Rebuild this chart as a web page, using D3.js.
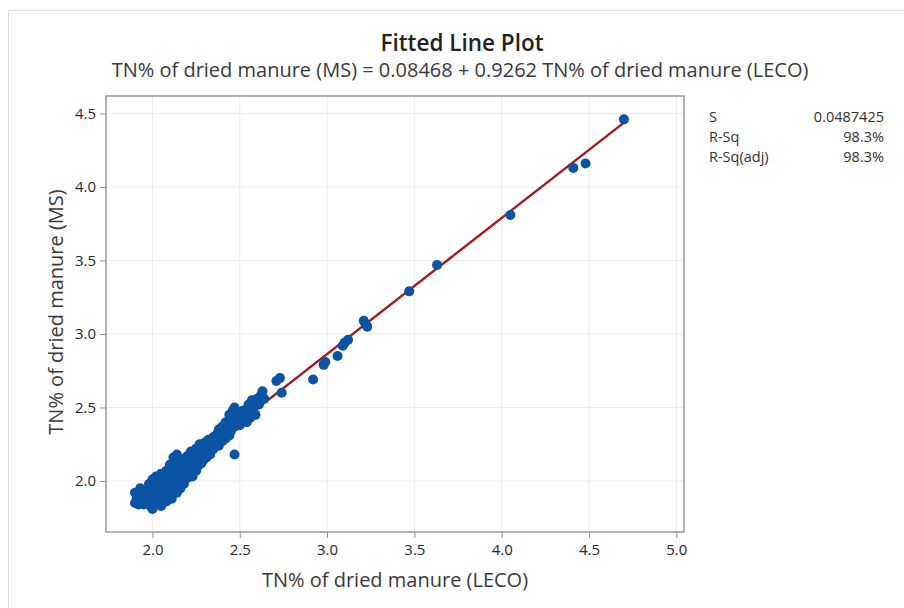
<!DOCTYPE html>
<html>
<head>
<meta charset="utf-8">
<script src="https://cdn.jsdelivr.net/npm/d3@7"></script>
<style>
body { margin: 0; background: #fff; }
svg { display: block; font-family: "Open Sans", "Noto Sans", sans-serif; }
</style>
</head>
<body>
<svg width="904" height="608"></svg>
<script>
// LECO (x) vs MS (y) readings
const clusterPoints = [
    [1.90,1.85],[1.90,1.92],[1.91,1.88],[1.92,1.84],[1.93,1.90],[1.93,1.95],[1.94,1.87],[1.95,1.92],[1.95,1.84],
    [1.96,1.89],[1.97,1.94],[1.97,1.86],[1.98,1.98],[1.98,1.91],[1.99,1.83],[1.99,1.95],[2.00,1.88],[2.00,2.01],
    [2.00,1.81],[2.01,1.93],[2.01,1.97],[2.02,1.85],[2.02,1.90],[2.02,2.03],[2.03,1.96],[2.03,1.87],[2.04,1.99],
    [2.04,1.92],[2.05,1.83],[2.05,2.05],[2.05,1.95],
    [2.06,1.89],[2.06,2.01],[2.07,1.97],[2.07,1.93],[2.08,2.07],[2.08,1.86],[2.08,2.02],[2.09,1.99],[2.09,1.91],
    [2.10,2.05],[2.10,1.95],[2.10,2.11],[2.11,1.88],[2.11,2.00],[2.12,2.08],[2.12,1.93],[2.12,2.16],[2.13,2.03],
    [2.13,1.97],[2.14,2.10],[2.14,2.18],[2.14,1.92],[2.15,2.05],[2.15,2.00],
    [2.16,2.12],[2.16,1.95],[2.17,2.08],[2.17,2.02],[2.18,2.15],[2.18,1.98],[2.19,2.06],[2.19,2.11],[2.20,2.02],
    [2.20,2.17],[2.21,2.09],[2.21,2.05],[2.22,2.13],[2.22,2.20],[2.23,2.08],[2.23,2.03],[2.24,2.16],[2.24,2.11],
    [2.25,2.22],[2.25,2.07],
    [2.26,2.14],[2.26,2.10],[2.27,2.19],[2.27,2.25],[2.28,2.12],[2.28,2.17],[2.29,2.21],[2.29,2.14],[2.30,2.19],
    [2.30,2.26],[2.31,2.16],[2.31,2.23],[2.32,2.20],[2.32,2.28],[2.33,2.18],[2.33,2.24],[2.34,2.21],[2.35,2.27],
    [2.35,2.30],[2.35,2.22],
    [2.36,2.25],[2.37,2.32],[2.37,2.28],[2.38,2.24],[2.38,2.35],[2.39,2.30],[2.40,2.27],[2.40,2.37],[2.41,2.33],
    [2.42,2.29],[2.42,2.40],[2.43,2.35],[2.44,2.31],[2.44,2.45],[2.45,2.38],[2.45,2.34],
    [2.46,2.48],[2.46,2.42],[2.47,2.37],[2.47,2.50],[2.48,2.44],[2.49,2.40],[2.49,2.47],[2.50,2.43],[2.50,2.38],
    [2.51,2.46],[2.52,2.41],[2.52,2.48],[2.53,2.44],[2.54,2.40],[2.55,2.47],[2.55,2.52],
    [2.56,2.43],[2.57,2.55],[2.58,2.50],[2.59,2.45],[2.60,2.56],[2.61,2.52],[2.62,2.58],[2.63,2.61],[2.64,2.56]
]
const outlierPoints = [
    [2.47,2.18],[2.71,2.68],[2.73,2.70],[2.74,2.60],[2.92,2.69],[2.98,2.79],[2.99,2.81],[3.06,2.85],
    [3.09,2.92],[3.10,2.94],[3.12,2.96],[3.21,3.09],[3.22,3.07],[3.23,3.05],[3.47,3.29],[3.63,3.47],
    [4.05,3.81],[4.41,4.13],[4.48,4.16],[4.70,4.46]
]
const xTicks = [2.0, 2.5, 3.0, 3.5, 4.0, 4.5, 5.0]
const yTicks = [2.0, 2.5, 3.0, 3.5, 4.0, 4.5]
const fitIntercept = 0.08468
const fitSlope = 0.9262
const fitRange = [1.90, 4.70]
const statLabels = ['S', 'R-Sq', 'R-Sq(adj)']
const statValues = ['0.0487425', '98.3%', '98.3%']

const svg = d3.select('svg')
const frame = {left: 106, right: 684, top: 96, bottom: 532}

const x = d3.scaleLinear().domain([1.734, 5.044]).range([frame.left, frame.right])
const y = d3.scaleLinear().domain([1.653, 4.619]).range([frame.bottom, frame.top])

// window border
svg.append('path')
    .attr('d', 'M8.5,608 V10.5 H904')
    .attr('fill', 'none')
    .attr('stroke', '#dcdcdc')

// gridlines
svg.append('g').selectAll('line').data(xTicks).enter().append('line')
    .attr('x1', d => x(d)).attr('x2', d => x(d))
    .attr('y1', frame.top).attr('y2', frame.bottom)
    .attr('stroke', '#ececec')
svg.append('g').selectAll('line').data(yTicks).enter().append('line')
    .attr('x1', frame.left).attr('x2', frame.right)
    .attr('y1', d => y(d)).attr('y2', d => y(d))
    .attr('stroke', '#ececec')

// axes
const xAxis = svg.append('g')
    .attr('transform', `translate(0,${frame.bottom})`)
    .call(d3.axisBottom(x).tickValues(xTicks).tickFormat(d3.format('.1f')).tickSize(6).tickPadding(6))
const yAxis = svg.append('g')
    .attr('transform', `translate(${frame.left},0)`)
    .call(d3.axisLeft(y).tickValues(yTicks).tickFormat(d3.format('.1f')).tickSize(6).tickPadding(4))
;[xAxis, yAxis].forEach(g => {
    g.select('.domain').remove()
    g.selectAll('.tick line').attr('stroke', '#8c8c8c')
    g.selectAll('.tick text').attr('fill', '#2a2a2a').style('font-size', '15px')
        .style('font-family', '"Open Sans", sans-serif')
})

// frame
svg.append('rect')
    .attr('x', frame.left).attr('y', frame.top)
    .attr('width', frame.right - frame.left).attr('height', frame.bottom - frame.top)
    .attr('fill', 'none').attr('stroke', '#9a9a9a').attr('stroke-width', 1.5)

// fitted line
svg.append('line')
    .attr('x1', x(fitRange[0])).attr('y1', y(fitIntercept + fitSlope * fitRange[0]))
    .attr('x2', x(fitRange[1])).attr('y2', y(fitIntercept + fitSlope * fitRange[1]))
    .attr('stroke', '#a31b1f').attr('stroke-width', 2.4)

// points
svg.append('g').selectAll('circle')
    .data(clusterPoints.concat(outlierPoints))
    .enter()
    .append('circle')
    .attr('cx', d => x(d[0]))
    .attr('cy', d => y(d[1]))
    .attr('r', 5)
    .style('fill', '#0a53a5')

// titles
svg.append('text').attr('x', 462).attr('y', 51)
    .attr('text-anchor', 'middle').attr('fill', '#222')
    .style('font-size', '22.5px').style('font-weight', '600')
    .text('Fitted Line Plot')
svg.append('text').attr('x', 460).attr('y', 77)
    .attr('text-anchor', 'middle').attr('fill', '#3a3a3a')
    .style('font-size', '20px')
    .text('TN% of dried manure (MS) = 0.08468 + 0.9262 TN% of dried manure (LECO)')
svg.append('text').attr('x', 395).attr('y', 587)
    .attr('text-anchor', 'middle').attr('fill', '#3a3a3a')
    .style('font-size', '20px')
    .text('TN% of dried manure (LECO)')
svg.append('text')
    .attr('transform', 'translate(63,312) rotate(-90)')
    .attr('text-anchor', 'middle').attr('fill', '#3a3a3a')
    .style('font-size', '20px')
    .text('TN% of dried manure (MS)')

// stats table
const stats = svg.append('g').style('font-size', '14.5px').attr('fill', '#333')
stats.selectAll('.lab').data(statLabels).enter().append('text')
    .attr('class', 'lab')
    .attr('x', 709).attr('y', (d, i) => 122 + i * 20)
    .text(d => d)
stats.selectAll('.val').data(statValues).enter().append('text')
    .attr('class', 'val')
    .attr('x', 884).attr('y', (d, i) => 122 + i * 20)
    .attr('text-anchor', 'end')
    .text(d => d)
</script>
</body>
</html>
